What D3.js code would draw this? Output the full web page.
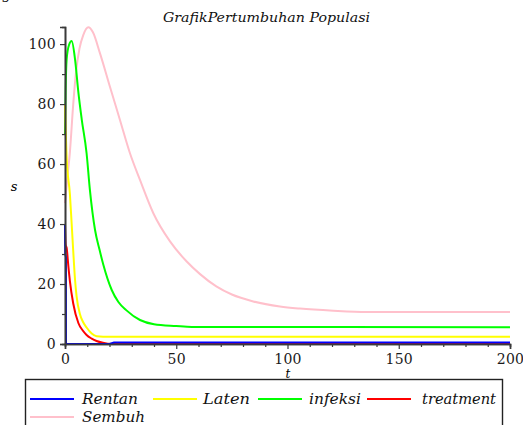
<!DOCTYPE html>
<html>
<head>
<meta charset="utf-8">
<title>Grafik Pertumbuhan Populasi</title>
<style>
  body { margin: 0; background: #fff; }
</style>
</head>
<body>
<svg width="523" height="425"></svg>
<script src="https://d3js.org/d3.v7.min.js"></script>
<script>

// values, [t, s]
var rentan = [[0, 40], [0.1, 30], [0.4, 29], [0.45, 0], [20, 0], [22, 0.5], [200, 0.5]];
var laten = [[0, 80], [0.75, 62], [2.2, 50], [3, 40], [3.7, 31], [4.5, 21.5], [5.2, 16], [6.7, 10],
             [8, 7.5], [9.7, 5.5], [12, 3.5], [14.2, 2.6], [20, 2.4], [200, 2.4]];
var infeksi = [[0, 70], [0.3, 85], [0.75, 95], [1.8, 99.7], [3, 101], [4.5, 95], [6, 84], [7.5, 75],
               [9.7, 63.6], [11.2, 51.3], [13.5, 38], [15.5, 31.5], [17.2, 26.5], [21, 18], [24, 14],
               [27.5, 11.3], [33.7, 8], [40, 6.6], [50, 6], [57, 5.7], [200, 5.6]];
var treatment = [[0, 40], [0.3, 33], [0.75, 32], [1.5, 26], [2.2, 21], [3.7, 13.5], [6, 7], [8, 4.5],
                 [9.7, 3], [12, 1.8], [14.2, 1], [17, 0.4], [21, 0], [200, 0]];
var sembuh = [[0, 47], [1, 55], [2.2, 64], [3.7, 80], [5, 91], [6.5, 98.5], [8.2, 103], [10.5, 105.6],
              [12.5, 104], [15.7, 97], [20.2, 85.8], [24.7, 74.7], [29.2, 63.6], [33.7, 54.7],
              [39.7, 43.6], [47.2, 34.2], [54.7, 27.5], [60.7, 23.3], [68, 19.2], [75, 16.5],
              [84.6, 14.2], [96.6, 12.5], [105.6, 11.8], [120.6, 11.1], [135.6, 10.7], [200, 10.7]];

var xTicks = [0, 50, 100, 150, 200];
var yTicks = [0, 20, 40, 60, 80, 100];
var names = ["Rentan", "Laten", "infeksi", "treatment", "Sembuh"];
var colors = ["#0000ff", "#ffff00", "#00ff00", "#ff0000", "#ffc0cb"];

var serif = "DejaVu Serif";

var svg = d3.select("svg");

var x = d3.scaleLinear().domain([0, 200]).range([65, 510]);
var y = d3.scaleLinear().domain([0, 105.7]).range([344, 27]);

// cut-off line of the page text above the figure
svg.append("text")
    .attr("x", 2)
    .attr("y", -1)
    .attr("font-family", serif)
    .attr("font-size", 14)
    .attr("font-style", "italic")
    .text("gambar berikut.");

svg.append("text")
    .attr("x", 163)
    .attr("y", 22)
    .attr("font-family", serif)
    .attr("font-size", 13)
    .attr("font-style", "italic")
    .attr("fill", "#111")
    .attr("textLength", 207)
    .attr("lengthAdjust", "spacingAndGlyphs")
    .text("GrafikPertumbuhan Populasi");

// curves
var line = d3.line()
    .x(function(d) { return x(d[0]); })
    .y(function(d) { return y(d[1]); })
    .curve(d3.curveMonotoneX);

var series = [sembuh, infeksi, laten, treatment, rentan];
var seriesColors = [colors[4], colors[2], colors[1], colors[3], colors[0]];

svg.append("g")
  .selectAll("path")
  .data(series)
  .enter().append("path")
    .attr("fill", "none")
    .attr("stroke", function(d, i) { return seriesColors[i]; })
    .attr("stroke-width", 2)
    .attr("d", function(d, i) { return i == 4 ? line.curve(d3.curveLinear)(d) : line(d); });

// axes
var axisColor = "#3a3a3a";

var gx = svg.append("g").attr("transform", "translate(0," + y(0) + ")");
gx.call(d3.axisBottom(x).tickValues(d3.range(10, 200, 10).filter(function(v) { return v % 50; }))
    .tickSize(3).tickFormat(""));
gx.call(function(g) {
  g.append("g").call(d3.axisBottom(x).tickValues(xTicks).tickSize(5).tickPadding(5));
});

var gy = svg.append("g").attr("transform", "translate(" + x(0) + ",0)");
gy.call(d3.axisLeft(y).tickValues([10, 30, 50, 70, 90]).tickSize(3).tickFormat(""));
gy.call(function(g) {
  g.append("g").call(d3.axisLeft(y).tickValues(yTicks).tickSize(5).tickPadding(4));
});

svg.selectAll("g").attr("font-family", serif);
svg.selectAll(".domain").attr("stroke", axisColor).attr("stroke-width", 1.6);
svg.selectAll(".tick line").attr("stroke", axisColor).attr("stroke-width", 1.2);
svg.selectAll(".tick text")
    .attr("font-family", serif)
    .attr("font-size", 14)
    .attr("fill", "#1a1a1a")
    .attr("letter-spacing", 0.3);

svg.append("text")
    .attr("x", 14)
    .attr("y", 191)
    .attr("font-family", serif)
    .attr("font-size", 13)
    .attr("font-style", "italic")
    .attr("text-anchor", "middle")
    .text("s");

svg.append("text")
    .attr("x", 288)
    .attr("y", 378)
    .attr("font-family", serif)
    .attr("font-size", 12)
    .attr("font-style", "italic")
    .attr("text-anchor", "middle")
    .text("t");

// legend
var legend = svg.append("g");
legend.append("rect")
    .attr("x", 25.5)
    .attr("y", 379.5)
    .attr("width", 477)
    .attr("height", 60)
    .attr("fill", "none")
    .attr("stroke", "#222")
    .attr("stroke-width", 1.4);

var legendItems = [
  { name: names[0], color: colors[0], x0: 30, tx: 82, tw: 56, ty: 404 },
  { name: names[1], color: colors[1], x0: 153, tx: 203, tw: 47, ty: 404 },
  { name: names[2], color: colors[2], x0: 258, tx: 309, tw: 52, ty: 404 },
  { name: names[3], color: colors[3], x0: 367, tx: 422, tw: 74, ty: 404 },
  { name: names[4], color: colors[4], x0: 30, tx: 82, tw: 63, ty: 422 }
];

var item = legend.selectAll("g.item")
  .data(legendItems)
  .enter().append("g")
    .attr("class", "item");

item.append("line")
    .attr("x1", function(d) { return d.x0; })
    .attr("x2", function(d) { return d.x0 + 44; })
    .attr("y1", function(d) { return d.ty - 5; })
    .attr("y2", function(d) { return d.ty - 5; })
    .attr("stroke", function(d) { return d.color; })
    .attr("stroke-width", 2);

item.append("text")
    .attr("x", function(d) { return d.tx; })
    .attr("y", function(d) { return d.ty; })
    .attr("font-family", serif)
    .attr("font-size", 14)
    .attr("font-style", "italic")
    .attr("fill", "#111")
    .attr("textLength", function(d) { return d.tw; })
    .attr("lengthAdjust", "spacingAndGlyphs")
    .text(function(d) { return d.name; });

</script>
</body>
</html>
